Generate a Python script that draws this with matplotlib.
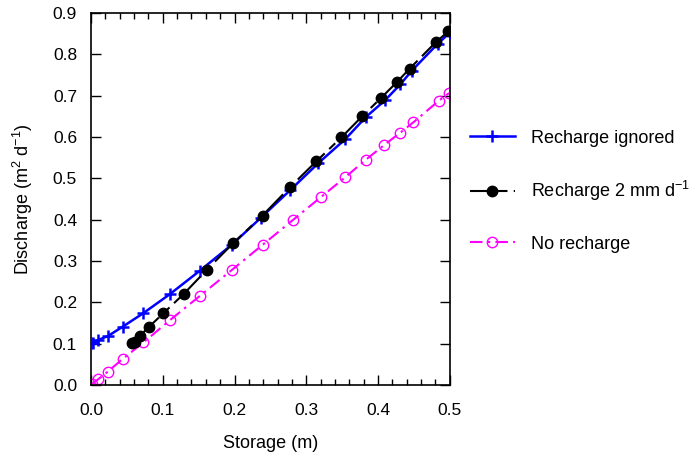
import matplotlib.pyplot as plt
from matplotlib.ticker import MultipleLocator

plt.rcParams['font.family'] = ['Liberation Sans', 'DejaVu Sans']
plt.rcParams['mathtext.fontset'] = 'custom'
plt.rcParams['mathtext.rm'] = 'Liberation Sans'

# Recharge ignored
x_ign = [0.0, 0.003, 0.010, 0.024, 0.044, 0.073, 0.110, 0.152, 0.196, 0.237,
         0.278, 0.317, 0.354, 0.383, 0.410, 0.431, 0.447, 0.483, 0.500]
y_ign = [0.101, 0.102, 0.109, 0.119, 0.141, 0.174, 0.220, 0.277, 0.339, 0.405,
         0.472, 0.537, 0.594, 0.648, 0.689, 0.727, 0.760, 0.825, 0.852]

# Recharge 2 mm/d
x_rch = [0.057, 0.061, 0.068, 0.081, 0.101, 0.129, 0.161, 0.198, 0.239,
         0.277, 0.314, 0.349, 0.378, 0.404, 0.426, 0.444, 0.481, 0.498]
y_rch = [0.101, 0.105, 0.119, 0.141, 0.174, 0.220, 0.278, 0.343, 0.410,
         0.478, 0.541, 0.599, 0.650, 0.694, 0.732, 0.765, 0.830, 0.855]

# No recharge
x_no = [0.001, 0.010, 0.023, 0.044, 0.073, 0.110, 0.152, 0.196, 0.239,
        0.282, 0.320, 0.354, 0.383, 0.409, 0.430, 0.449, 0.485, 0.499]
y_no = [0.002, 0.014, 0.032, 0.063, 0.103, 0.157, 0.216, 0.278, 0.339,
        0.400, 0.454, 0.502, 0.545, 0.581, 0.609, 0.635, 0.688, 0.706]

fig = plt.figure(figsize=(6.92, 4.59), dpi=100)
ax = fig.add_axes([0.1315, 0.161, 0.5185, 0.811])

ax.plot(x_ign, y_ign, color='#0000ff', lw=1.8, marker='+', ms=8.5, mew=1.8,
        label='Recharge ignored', zorder=3)
ax.plot(x_rch, y_rch, color='black', lw=1.5, marker='o', ms=7.5,
        dashes=(18, 3, 4, 3), label='Recharge 2 mm d$^{\\mathrm{-1}}$', zorder=4)
ax.plot(x_no, y_no, color='#ff00ff', lw=1.5, marker='o', ms=7.5, mfc='none',
        mew=1.0, dashes=(6, 2.5, 1.2, 2.5), label='No recharge', zorder=2)

ax.set_xlim(0, 0.5)
ax.set_ylim(0, 0.9)
ax.xaxis.set_major_locator(MultipleLocator(0.1))
ax.xaxis.set_minor_locator(MultipleLocator(0.02))
ax.yaxis.set_major_locator(MultipleLocator(0.1))
ax.xaxis.set_major_formatter(lambda v, p: f"{v:.1f}")
ax.yaxis.set_major_formatter(lambda v, p: f"{v:.1f}")
ax.tick_params(which='both', direction='in', top=True, right=True, labelsize=12.5)
ax.tick_params(which='major', length=7, width=1)
ax.tick_params(which='minor', length=4, width=1)
ax.tick_params(axis='x', pad=13)
ax.tick_params(axis='y', pad=10)
for s in ax.spines.values():
    s.set_linewidth(1.2)

ax.set_xlabel('Storage (m)', fontsize=13, labelpad=12)
ax.set_ylabel('Discharge (m$^2$ d$^{\\mathrm{-1}}$)', fontsize=13, labelpad=13)

ax.legend(loc='center left', bbox_to_anchor=(1.01, 0.521), frameon=False,
          fontsize=13, handlelength=2.5, labelspacing=1.8, handletextpad=0.9)

fig.savefig('out.png', dpi=100)
